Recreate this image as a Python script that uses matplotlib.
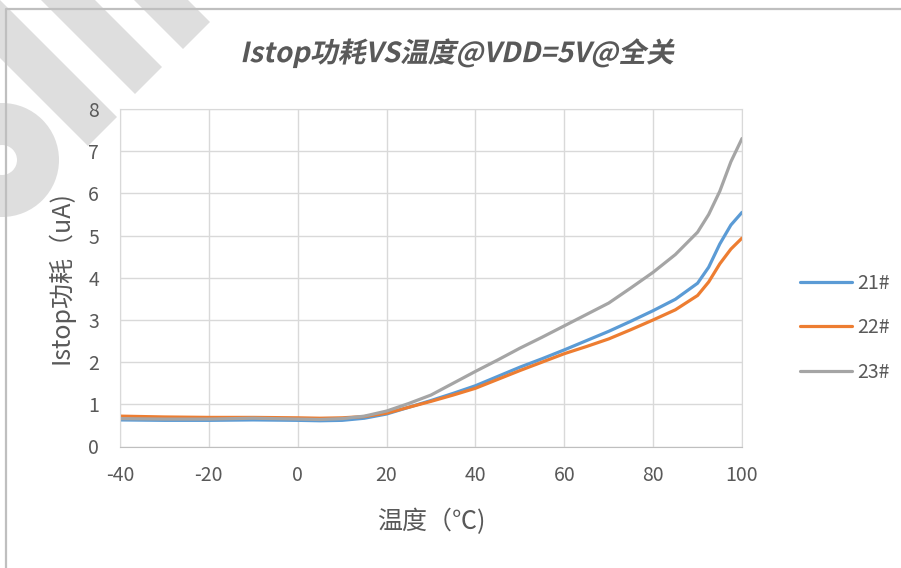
import matplotlib
matplotlib.use("Agg")
import matplotlib.pyplot as plt
from matplotlib import patheffects
from matplotlib.patches import Polygon, Wedge
from matplotlib.transforms import Affine2D

plt.rcParams["font.family"] = ["Noto Sans CJK SC", "DejaVu Sans"]
plt.rcParams["axes.unicode_minus"] = False

# temperatures (°C) and Istop readings (uA)
temps = [-40, -30, -20, -10, 0, 5, 10, 15, 20, 25, 30, 35, 40, 45, 50, 55,
         60, 65, 70, 75, 80, 85, 90, 92.5, 95, 97.5, 100]
s21 = [0.63, 0.62, 0.62, 0.63, 0.62, 0.61, 0.62, 0.67, 0.77, 0.93, 1.09, 1.26,
       1.44, 1.66, 1.88, 2.08, 2.29, 2.51, 2.73, 2.97, 3.22, 3.49, 3.87, 4.25,
       4.80, 5.25, 5.55]
s22 = [0.72, 0.70, 0.69, 0.69, 0.68, 0.67, 0.68, 0.71, 0.79, 0.93, 1.07, 1.22,
       1.38, 1.59, 1.80, 2.00, 2.20, 2.37, 2.55, 2.77, 3.00, 3.24, 3.58, 3.90,
       4.33, 4.68, 4.94]
s23 = [0.66, 0.65, 0.65, 0.67, 0.65, 0.64, 0.66, 0.72, 0.84, 1.02, 1.22, 1.50,
       1.78, 2.05, 2.33, 2.59, 2.86, 3.13, 3.40, 3.76, 4.13, 4.55, 5.08, 5.50,
       6.05, 6.75, 7.30]
series = [("21#", s21, "#5B9BD5"), ("22#", s22, "#ED7D31"), ("23#", s23, "#A5A5A5")]

xticks = [-40, -20, 0, 20, 40, 60, 80, 100]
yticks = [0, 1, 2, 3, 4, 5, 6, 7, 8]

TXT = "#595959"
GRID = "#D9D9D9"
W, H = 901, 568


class Oblique(patheffects.AbstractPathEffect):
    """Shear glyph paths so CJK text looks italic like Excel's fake italic."""

    def __init__(self, deg=12):
        super().__init__()
        self._deg = deg

    def draw_path(self, renderer, gc, tpath, affine, rgbFace=None):
        renderer.draw_path(gc, tpath, Affine2D().skew_deg(self._deg, 0) + affine, rgbFace)


fig = plt.figure(figsize=(W / 100, H / 100), dpi=100)
px = Affine2D().scale(1 / W, -1 / H).translate(0, 1) + fig.transFigure

# faint watermark in the top-left corner (45° bands + a ring)
wm = "#DEDEDE"
for pts in ([(0, 0), (117, 117), (88, 146), (0, 58)],
            [(95, 0), (162, 67), (135, 94), (41, 0)],
            [(188, 0), (210, 22), (183, 49), (134, 0)]):
    fig.patches.append(Polygon(pts, closed=True, transform=px, color=wm,
                               lw=0, zorder=-2))
fig.patches.append(Wedge((2, 160), 57, 0, 360, width=42, transform=px,
                         color=wm, lw=0, zorder=-2))

# outer border (left and top visible)
fig.lines.append(plt.Line2D([6, 6, W], [H, 9, 9], transform=px,
                            color="#BFBFBF", lw=1.6, zorder=-1))

ax = fig.add_axes([120 / W, 1 - 446.5 / H, (742 - 120) / W, (446.5 - 109) / H])
ax.set_facecolor("none")
for name, vals, color in series:
    ax.plot(temps, vals, color=color, lw=2.3, label=name, solid_capstyle="round")

ax.set_xlim(-40, 100)
ax.set_ylim(0, 8)
ax.set_xticks(xticks)
ax.set_yticks(yticks)
ax.grid(True, color=GRID, lw=1.0)
ax.set_axisbelow(True)
ax.tick_params(length=0, labelsize=14, colors=TXT)
ax.tick_params(axis="x", pad=13)
ax.tick_params(axis="y", pad=15)
for sp in ax.spines.values():
    sp.set_color(GRID)
ax.spines["bottom"].set_color("#BFBFBF")

ax.set_xlabel("温度（℃)", fontsize=18, color=TXT, labelpad=17)
ax.set_ylabel("Istop功耗（uA)", fontsize=18, color=TXT, labelpad=10)

fig.text(457 / W, 1 - 53 / H, "Istop功耗VS温度@VDD=5V@全关", ha="center",
         va="center", fontsize=20, fontweight="bold", color=TXT,
         path_effects=[Oblique(12)])

leg = ax.legend(loc="center left", bbox_to_anchor=(1.065, 0.352), frameon=False,
                fontsize=14, labelcolor=TXT, handlelength=2.7, handletextpad=0.25,
                labelspacing=1.2)

fig.savefig("out.png", dpi=100)
